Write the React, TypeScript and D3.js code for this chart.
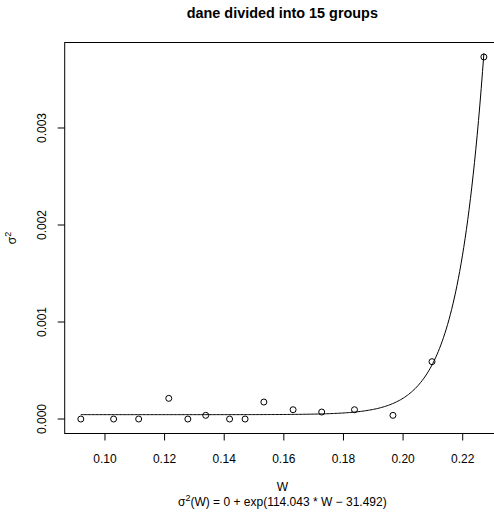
import React from "react";
import * as d3 from "d3";

const W_VALUES = [0.0919, 0.1029, 0.1113, 0.1214, 0.1278, 0.1338, 0.1418, 0.147, 0.1533, 0.1631, 0.1727, 0.1837, 0.1966, 0.2097, 0.2271];
const SIGMA2_VALUES = [0, 0, 0, 0.000213, 0, 0.000038, 0, 0, 0.000175, 0.000096, 0.000072, 0.000096, 0.000038, 0.000591, 0.003732];
const X_TICKS = [0.1, 0.12, 0.14, 0.16, 0.18, 0.2, 0.22];
const Y_TICKS = [0, 0.001, 0.002, 0.003];
const FIT_C = 0.000045;
const FIT_A = 114.043;
const FIT_B = -31.492;
const TITLE = "dane divided into 15 groups";

const FONT = "'Liberation Sans', Arial, Helvetica, sans-serif";

export default function App() {
  const width = 494;
  const height = 516;
  const left = 64.7;
  const right = 500;
  const top = 42.5;
  const bottom = 433.5;

  const xExt = d3.extent(W_VALUES) as [number, number];
  const yExt = d3.extent(SIGMA2_VALUES) as [number, number];
  const xPad = (xExt[1] - xExt[0]) * 0.04;
  const yPad = (yExt[1] - yExt[0]) * 0.04;
  const x = d3.scaleLinear().domain([xExt[0] - xPad, xExt[1] + xPad]).range([left, right]);
  const y = d3.scaleLinear().domain([yExt[0] - yPad, yExt[1] + yPad]).range([bottom, top]);

  const curvePts: [number, number][] = d3.range(0, 301).map((i) => {
    const w = xExt[0] + ((xExt[1] - xExt[0]) * i) / 300;
    return [w, FIT_C + Math.exp(FIT_A * w + FIT_B)];
  });
  const line = d3
    .line<[number, number]>()
    .x((d) => x(d[0]))
    .y((d) => y(d[1]));

  const cx = (left + right) / 2;
  const cy = (top + bottom) / 2;

  return (
    <svg
      width={width}
      height={height}
      style={{ position: "absolute", left: 0, top: 0, background: "#fff" }}
      fontFamily={FONT}
    >
      <rect x={0} y={0} width={width} height={height} fill="#fff" />
      <text x={cx} y={18} textAnchor="middle" fontSize={14.4} fontWeight="bold">
        {TITLE}
      </text>
      <rect x={left} y={top} width={right - left} height={bottom - top} fill="none" stroke="#000" strokeWidth={1} />
      {X_TICKS.map((t) => (
        <g key={"x" + t}>
          <line x1={x(t)} x2={x(t)} y1={bottom} y2={bottom + 7} stroke="#000" />
          <text x={x(t)} y={463} textAnchor="middle" fontSize={12}>
            {t.toFixed(2)}
          </text>
        </g>
      ))}
      {Y_TICKS.map((t) => (
        <g key={"y" + t}>
          <line x1={left - 7} x2={left} y1={y(t)} y2={y(t)} stroke="#000" />
          <text
            transform={`translate(46,${y(t)}) rotate(-90)`}
            textAnchor="middle"
            fontSize={12}
          >
            {t.toFixed(3)}
          </text>
        </g>
      ))}
      <text x={cx} y={491} textAnchor="middle" fontSize={12}>
        W
      </text>
      <text x={cx} y={506} textAnchor="middle" fontSize={12}>
        σ<tspan dy={-5} fontSize={9}>2</tspan>
        <tspan dy={5}>(W) = 0 + exp(114.043 * W − 31.492)</tspan>
      </text>
      <text transform={`translate(16,${cy}) rotate(-90)`} textAnchor="middle" fontSize={12}>
        σ<tspan dy={-5} fontSize={9}>2</tspan>
      </text>
      <path d={line(curvePts) || ""} fill="none" stroke="#000" strokeWidth={1} />
      {W_VALUES.map((w, i) => (
        <circle key={i} cx={x(w)} cy={y(SIGMA2_VALUES[i])} r={3} fill="none" stroke="#000" strokeWidth={1} />
      ))}
    </svg>
  );
}
